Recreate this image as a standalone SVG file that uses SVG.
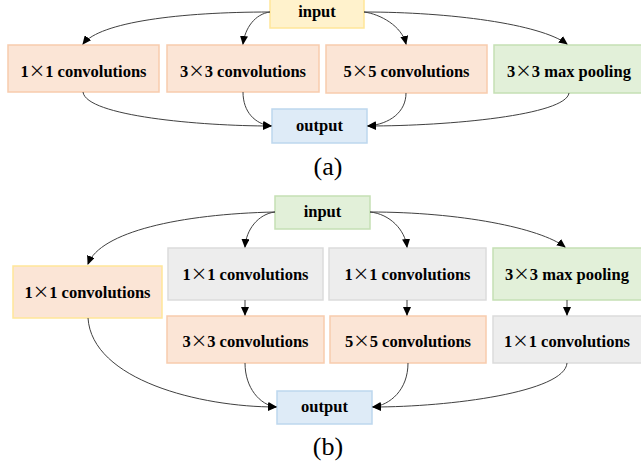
<svg xmlns="http://www.w3.org/2000/svg" width="641" height="463" viewBox="0 0 641 463">
<defs>
<marker id="ah" markerWidth="9" markerHeight="8" refX="8" refY="4" orient="auto" markerUnits="userSpaceOnUse">
<path d="M0,0 L9,4 L0,8 z" fill="#000"/>
</marker>
<style>
.t{font-family:"Liberation Serif","Times New Roman",serif;font-weight:bold;font-size:16.5px;fill:#000;text-anchor:middle}
.x{font-family:"Noto Sans CJK SC","Liberation Serif",sans-serif;font-weight:normal}
.cap{font-family:"Liberation Serif","Times New Roman",serif;font-size:26px;fill:#000;text-anchor:middle}
.or{fill:#FBE5D6;stroke:#F8CBAD;stroke-width:1.5}
.ye{fill:#FFF2CC;stroke:#FFE699;stroke-width:1.5}
.gr{fill:#E2F0D9;stroke:#C5E0B4;stroke-width:1.5}
.bl{fill:#DEEBF7;stroke:#BDD7EE;stroke-width:1.5}
.gy{fill:#EDEDED;stroke:#DBDBDB;stroke-width:1.5}
.oy{fill:#FBE5D6;stroke:#FFE699;stroke-width:1.5}
.c{fill:none;stroke:#404040;stroke-width:1;marker-end:url(#ah)}
</style>
</defs>
<rect width="641" height="463" fill="#fff"/>

<!-- (a) -->
<g id="a_input"><rect class="ye" x="270" y="-1" width="94" height="29"/><text class="t" x="317" y="17">input</text></g>
<g id="a_conv1"><rect class="or" x="8" y="45" width="151" height="47"/><text class="t" x="83.5" y="77">1<tspan class="x">×</tspan>1 convolutions</text></g>
<g id="a_conv3"><rect class="or" x="167" y="45" width="152" height="47"/><text class="t" x="243" y="77">3<tspan class="x">×</tspan>3 convolutions</text></g>
<g id="a_conv5"><rect class="or" x="326" y="45" width="161" height="48"/><text class="t" x="406.5" y="77">5<tspan class="x">×</tspan>5 convolutions</text></g>
<g id="a_pool"><rect class="gr" x="494" y="45" width="152" height="48"/><text class="t" x="569" y="77">3<tspan class="x">×</tspan>3 max pooling</text></g>
<g id="a_output"><rect class="bl" x="272" y="109" width="95" height="34"/><text class="t" x="319.5" y="131">output</text></g>
<text class="cap" x="328" y="175">(a)</text>

<!-- (b) -->
<g id="b_input"><rect class="gr" x="275" y="196" width="95" height="33"/><text class="t" x="322.5" y="217">input</text></g>
<g id="b_conv1_left"><rect class="oy" x="13" y="266" width="149" height="52"/><text class="t" x="87.5" y="298">1<tspan class="x">×</tspan>1 convolutions</text></g>
<g id="b_red3"><rect class="gy" x="168" y="248" width="155" height="52"/><text class="t" x="245.5" y="280">1<tspan class="x">×</tspan>1 convolutions</text></g>
<g id="b_conv3"><rect class="or" x="167" y="316" width="157" height="47"/><text class="t" x="245.5" y="347">3<tspan class="x">×</tspan>3 convolutions</text></g>
<g id="b_red5"><rect class="gy" x="329" y="248" width="157" height="52"/><text class="t" x="407.5" y="280">1<tspan class="x">×</tspan>1 convolutions</text></g>
<g id="b_conv5"><rect class="or" x="330" y="316" width="156" height="47"/><text class="t" x="408" y="347">5<tspan class="x">×</tspan>5 convolutions</text></g>
<g id="b_pool"><rect class="gr" x="493" y="248" width="150" height="52"/><text class="t" x="567" y="280">3<tspan class="x">×</tspan>3 max pooling</text></g>
<g id="b_proj"><rect class="gy" x="493" y="316" width="150" height="47"/><text class="t" x="567" y="347">1<tspan class="x">×</tspan>1 convolutions</text></g>
<g id="b_output"><rect class="bl" x="277" y="391" width="95" height="33"/><text class="t" x="324.5" y="412">output</text></g>
<text class="cap" x="328" y="455">(b)</text>

<g id="connectors">
<!-- (a) -->
<path class="c" d="M270,12 C180,12 100,22 83,44"/>
<path class="c" d="M270,12 C255,14 245,28 243,44"/>
<path class="c" d="M364,12 C380,14 402,26 406,44"/>
<path class="c" d="M364,12 C450,12 540,24 567,44"/>
<path class="c" d="M83,92 C86,116 200,126 271,126"/>
<path class="c" d="M243,92 C243,112 255,124 271,126"/>
<path class="c" d="M406,93 C406,112 390,124 368,126"/>
<path class="c" d="M569,93 C566,115 450,126 368,126"/>
<!-- (b) -->
<path class="c" d="M275,212 C180,214 100,232 88,264"/>
<path class="c" d="M275,212 C258,214 246,230 245,247"/>
<path class="c" d="M370,212 C390,214 405,230 407,247"/>
<path class="c" d="M370,212 C460,212 540,228 565,247"/>
<path class="c" d="M245,300 L245,315"/>
<path class="c" d="M407,300 L407,315"/>
<path class="c" d="M567,300 L567,315"/>
<path class="c" d="M88,318 C92,380 200,407 276,407"/>
<path class="c" d="M245,363 C245,388 260,405 276,407"/>
<path class="c" d="M408,363 C408,390 390,405 373,407"/>
<path class="c" d="M567,363 C565,392 450,407 373,407"/>
</g>
</svg>
